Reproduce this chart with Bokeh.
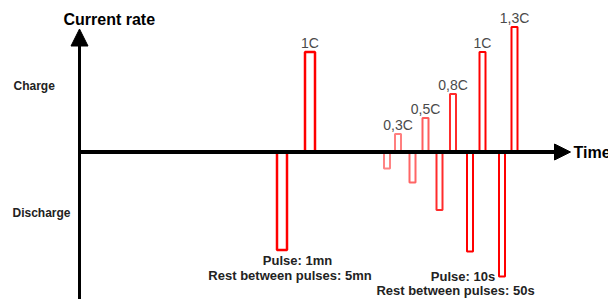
from bokeh.plotting import figure
from bokeh.models import Range1d, Arrow, NormalHead, ColumnDataSource
from bokeh.core.properties import value
from bokeh.embed import file_html
from bokeh.resources import INLINE

# ---- data (schematic units: time along x, relative current along y) ----
g1_charge_t = [230.5]
g1_charge_val = [100]
g1_dis_t = [202.5]
g1_dis_val = [98]
g1_width = 10

g2_labels = ["0,3C", "0,5C", "0,8C", "1C", "1,3C"]
g2_charge_t = [318.5, 346, 373.5, 403, 435]
g2_charge_val = [18, 34, 58, 100, 125]
g2_dis_t = [307.5, 333, 360, 390.5, 422.5]
g2_dis_val = [16.5, 30.5, 58, 99.5, 124.5]
g2_width = 6

FONT = value("Liberation Sans")

p = figure(width=608, height=299, output_backend="svg", toolbar_location=None,
           x_range=Range1d(-79, 529), y_range=Range1d(-147.5, 151.5),
           x_axis_location=None, y_axis_location=None,
           min_border=0, min_border_left=0, min_border_right=0,
           min_border_top=0, min_border_bottom=0)
p.grid.visible = False
p.outline_line_color = None
p.background_fill_color = "white"
p.border_fill_color = "white"

# group 1 pulses (1 min)
src1c = ColumnDataSource(dict(l=[t - g1_width / 2 for t in g1_charge_t],
                              r=[t + g1_width / 2 for t in g1_charge_t],
                              b=[0] * len(g1_charge_t), top=g1_charge_val))
src1d = ColumnDataSource(dict(l=[t - g1_width / 2 for t in g1_dis_t],
                              r=[t + g1_width / 2 for t in g1_dis_t],
                              b=[-v for v in g1_dis_val], top=[0] * len(g1_dis_t)))
for s in (src1c, src1d):
    p.quad(left="l", right="r", bottom="b", top="top", source=s,
           fill_color="white", line_color="#ff0000", line_width=2.5)

# group 2 pulses (10 s)
alpha_c = [min(1.0, 0.35 + v / 120) for v in g2_charge_val]
alpha_d = [min(1.0, 0.35 + v / 120) for v in g2_dis_val]
src2c = ColumnDataSource(dict(l=[t - g2_width / 2 for t in g2_charge_t],
                              r=[t + g2_width / 2 for t in g2_charge_t],
                              b=[0] * len(g2_charge_t), top=g2_charge_val, a=alpha_c))
src2d = ColumnDataSource(dict(l=[t - g2_width / 2 for t in g2_dis_t],
                              r=[t + g2_width / 2 for t in g2_dis_t],
                              b=[-v for v in g2_dis_val], top=[0] * len(g2_dis_t), a=alpha_d))
for s in (src2c, src2d):
    p.quad(left="l", right="r", bottom="b", top="top", source=s,
           fill_color="white", line_color="#ff0000", line_alpha="a", line_width=2)

# rate labels (placed a few units above each charge pulse)
lab_gap = 9
p.text(x=g1_charge_t, y=[v + lab_gap for v in g1_charge_val], text=["1C"], text_font=FONT,
       text_font_size="14px", text_color="#4a4a4a", text_align="center",
       text_baseline="alphabetic")
p.text(x=g2_charge_t, y=[v + lab_gap for v in g2_charge_val], text=g2_labels, text_font=FONT,
       text_font_size="14px", text_color="#4a4a4a", text_align="center",
       text_baseline="alphabetic")

# axes with arrows
p.add_layout(Arrow(end=NormalHead(size=17, fill_color="black", line_color="black"),
                   x_start=0, y_start=-147.5, x_end=0, y_end=123,
                   line_color="black", line_width=3))
p.add_layout(Arrow(end=NormalHead(size=16, fill_color="black", line_color="black"),
                   x_start=0, y_start=0, x_end=491, y_end=0,
                   line_color="black", line_width=4))

# titles
p.text(x=[-16], y=[133], text=["Current rate"], text_font=FONT, text_font_size="16px",
       text_font_style="bold", text_color="black", text_align="left", text_baseline="middle")
p.text(x=[494], y=[0], text=["Time"], text_font=FONT, text_font_size="16px",
       text_font_style="bold", text_color="black", text_align="left", text_baseline="middle")
p.text(x=[-66, -67], y=[66, -60.5], text=["Charge", "Discharge"], text_font=FONT,
       text_font_size="12px", text_font_style="bold", text_color="#222222",
       text_align="left", text_baseline="middle")

# captions
p.text(x=[218, 210.5, 383.5, 376], y=[-108.5, -123.5, -124.5, -138.5],
       text=["Pulse: 1mn", "Rest between pulses: 5mn", "Pulse: 10s", "Rest between pulses: 50s"],
       text_font=FONT, text_font_size="13px", text_font_style="bold", text_color="#222222",
       text_align="center", text_baseline="middle")

open("out.html", "w").write(file_html(p, INLINE))
